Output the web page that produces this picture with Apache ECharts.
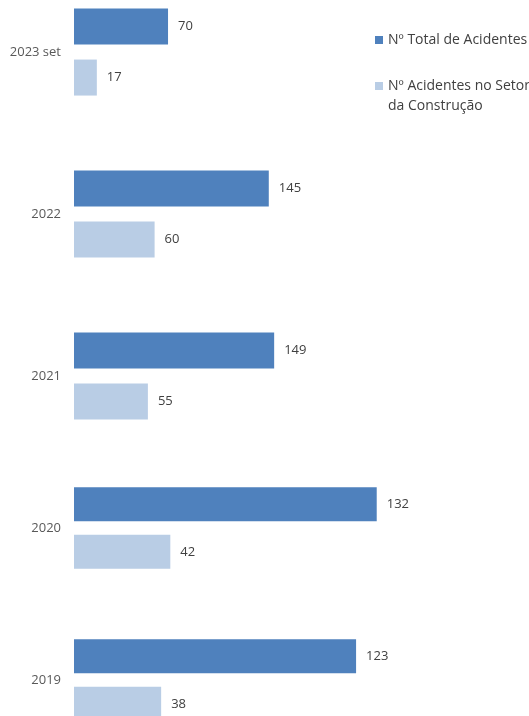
<!DOCTYPE html>
<html>
<head>
<meta charset="utf-8">
<script src="https://cdn.jsdelivr.net/npm/echarts@6/dist/echarts.min.js"></script>
<style>html,body{margin:0;padding:0;background:#fff;}#c{width:529px;height:716px;}</style>
</head>
<body>
<div id="c"></div>
<script>
var categories = ['2023 set', '2022', '2021', '2020', '2019'];
var totalAcidentes = [70, 145, 149, 132, 123];
var construcao = [17, 60, 55, 42, 38];
var seriesNames = ['Nº Total de Acidentes', 'Nº Acidentes no Setor\nda Construção'];

var darkColor = '#4f81bd';
var lightColor = '#b9cde5';
var font = 'Open Sans';

var topCats = categories.slice(0, 3), botCats = categories.slice(3);

function valueLabel() {
  return { show: true, position: 'right', distance: 10, color: '#404040', fontSize: 13, fontFamily: font };
}
// legend icons: a 10x35 box (scaled to 8x28) with the square placed where the first text line sits
var midSquareIcon = 'path://M0,0h0.05v0.05h-0.05z M0,12.5h10v10h-10z M0,34.95h0.05v0.05h-0.05z';
var topSquareIcon = 'path://M0,0h10v10h-10z M0,34.95h0.05v0.05h-0.05z';

var chart = echarts.init(document.getElementById('c'));
chart.setOption({
  animation: false,
  legend: {
    orient: 'vertical',
    left: 370,
    top: 21,
    itemWidth: 8,
    itemHeight: 28,
    itemGap: 22,
    textStyle: { fontFamily: font, fontSize: 14, color: '#404040', lineHeight: 20 },
    data: [
      { name: seriesNames[0], icon: midSquareIcon },
      { name: seriesNames[1], icon: topSquareIcon }
    ]
  },
  grid: [
    { left: 74, top: -29, width: 403, height: 486, outerBoundsMode: 'none', containLabel: false },
    { left: 74, top: 452, width: 344, height: 304, outerBoundsMode: 'none', containLabel: false }
  ],
  xAxis: [
    { gridIndex: 0, type: 'value', min: 0, max: 300, show: false },
    { gridIndex: 1, type: 'value', min: 0, max: 150, show: false }
  ],
  yAxis: [
    { gridIndex: 0, type: 'category', inverse: true, data: topCats,
      axisLine: { show: false }, axisTick: { show: false },
      axisLabel: { margin: 13, color: '#595959', fontSize: 13, fontFamily: font } },
    { gridIndex: 1, type: 'category', inverse: true, data: botCats,
      axisLine: { show: false }, axisTick: { show: false },
      axisLabel: { margin: 13, color: '#595959', fontSize: 13, fontFamily: font } }
  ],
  series: [
    { name: seriesNames[0], type: 'bar', xAxisIndex: 0, yAxisIndex: 0, data: totalAcidentes.slice(0, 3),
      barWidth: 36, barGap: '42%', itemStyle: { color: darkColor }, label: valueLabel() },
    { name: seriesNames[1], type: 'bar', xAxisIndex: 0, yAxisIndex: 0, data: construcao.slice(0, 3),
      barWidth: 36, barGap: '42%', itemStyle: { color: lightColor }, label: valueLabel() },
    { name: seriesNames[0], type: 'bar', xAxisIndex: 1, yAxisIndex: 1, data: totalAcidentes.slice(3),
      barWidth: 34, barGap: '40%', itemStyle: { color: darkColor }, label: valueLabel() },
    { name: seriesNames[1], type: 'bar', xAxisIndex: 1, yAxisIndex: 1, data: construcao.slice(3),
      barWidth: 34, barGap: '40%', itemStyle: { color: lightColor }, label: valueLabel() }
  ]
});
</script>
</body>
</html>
